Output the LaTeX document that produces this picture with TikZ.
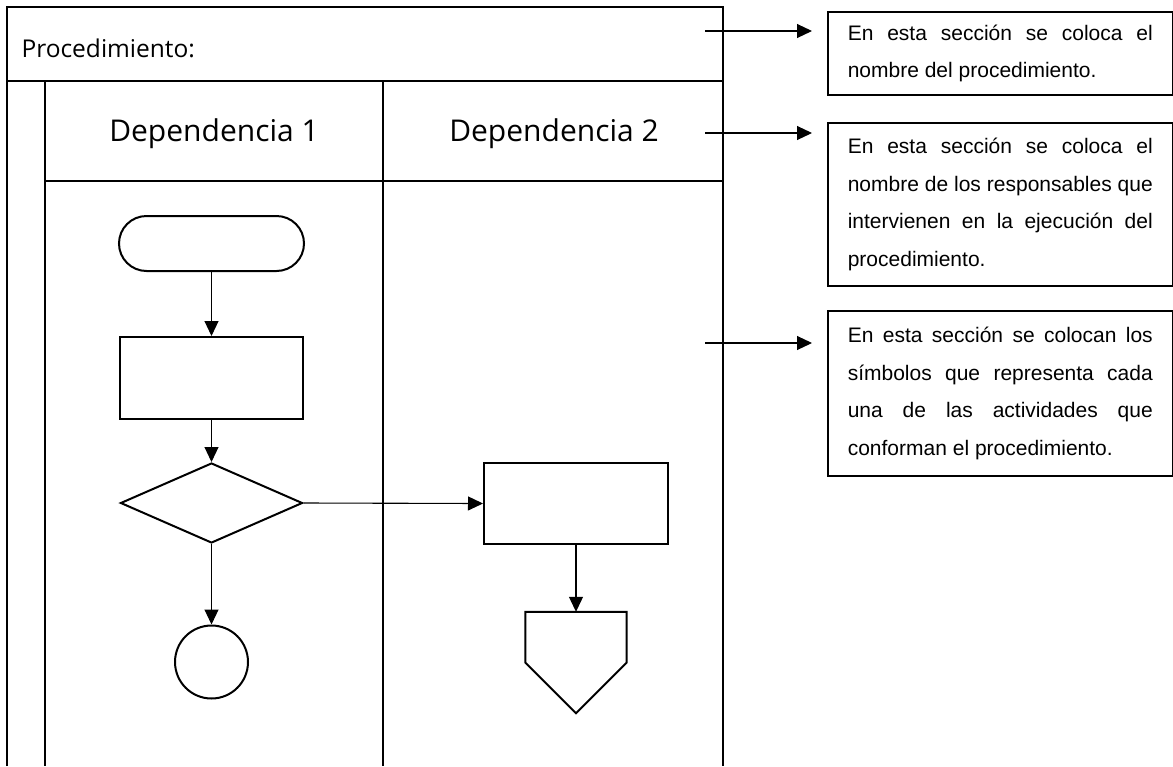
\documentclass[tikz,border=0pt]{standalone}
\usepackage{fontspec}
\setmainfont{Liberation Sans}
\newfontfamily\titulo{Open Sans}
\usetikzlibrary{arrows.meta,shapes.geometric,shapes.misc}
\hyphenpenalty=10000
\exhyphenpenalty=10000
\tolerance=10000

\begin{document}
\begin{tikzpicture}[x=1pt, y=-1pt,
    marco/.style = {line width=2.7pt},
    forma/.style = {draw, line width=2pt, inner sep=0pt},
    flecha/.style = {-{Triangle[length=15pt,width=14pt]}, line width=1.1pt},
    nota/.style = {draw, line width=1.6pt, anchor=north west, text width=305pt, inner xsep=20pt, align=justify, font=\fontsize{21}{37.5}\selectfont}]
    \useasboundingbox (0,0) rectangle (1173,766);
    % marco del procedimiento
    \draw[marco] (7,766) -- (7,7) -- (723,7) -- (723,766);
    \draw[marco] (7,81) -- (723,81);
    \draw[marco] (45,81) -- (45,766);
    \draw[marco] (383,81) -- (383,766);
    \draw[marco] (45,181) -- (723,181);
    \node[anchor=base west, font=\titulo\fontsize{24.5}{29}\selectfont] (proc) at (18,57) {Procedimiento:};
    \node[anchor=base, font=\titulo\fontsize{30}{36}\selectfont] (dep1) at (214,141.5) {Dependencia 1};
    \node[anchor=base, font=\titulo\fontsize{30}{36}\selectfont] (dep2) at (554,141) {Dependencia 2};
    % simbolos
    \node[forma, rounded rectangle, minimum width=185, minimum height=55] (inicio) at (211.5,243.5) {};
    \node[forma, rectangle, minimum width=183, minimum height=82] (act1) at (211.5,378) {};
    \node[forma, diamond, minimum width=182, minimum height=80] (dec) at (211.5,503) {};
    \node[forma, circle, minimum size=73] (fin) at (211.5,662) {};
    \node[forma, rectangle, minimum width=184, minimum height=81] (act2) at (576,503.5) {};
    \node[inner sep=0pt, minimum width=101, minimum height=101] (conec) at (576,662.5) {};
    \draw[line width=2pt] (conec.north west) -- (conec.north east) -- (conec.east) -- (conec.south) -- (conec.west) -- cycle;
    \draw[flecha] (inicio) -- (act1);
    \draw[flecha] (act1) -- (dec);
    \draw[flecha] (dec) -- (fin);
    \draw[flecha] (dec.east) -- (act2.west);
    \draw[flecha] (act2) -- (conec.north);
    % notas
    \node[nota, minimum height=83] (nota1) at (827,11) {En esta sección se coloca el\linebreak nombre del procedimiento.};
    \node[nota, minimum height=163] (nota2) at (827,122) {En esta sección se coloca el\linebreak nombre de los responsables que\linebreak intervienen en la ejecución del\linebreak procedimiento.};
    \node[nota, minimum height=165] (nota3) at (827,310) {En esta sección se colocan los\linebreak símbolos que representa cada\linebreak una de las actividades que\linebreak conforman el procedimiento.};
    \coordinate (s1) at (705,31);
    \coordinate (e1) at (812,31);
    \coordinate (s2) at (705,133);
    \coordinate (e2) at (812,133);
    \coordinate (s3) at (705,343);
    \coordinate (e3) at (812,343);
    \draw[flecha] (s1) -- (e1);
    \draw[flecha] (s2) -- (e2);
    \draw[flecha] (s3) -- (e3);
\end{tikzpicture}
\end{document}
